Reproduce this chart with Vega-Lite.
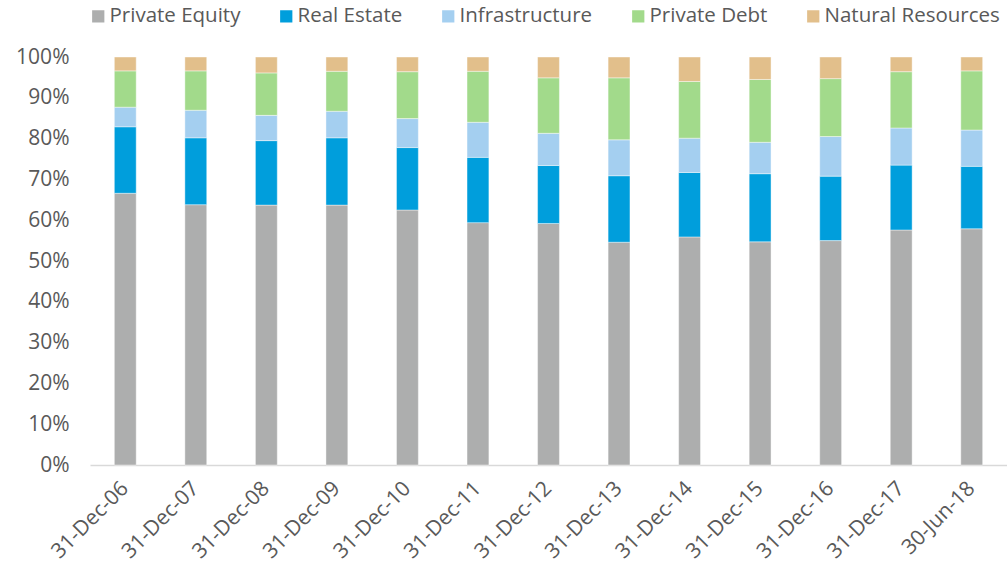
{
  "$schema": "https://vega.github.io/schema/vega-lite/v6.json",
  "width": 917,
  "height": 408,
  "autosize": {"type": "none"},
  "padding": {"left": 90, "top": 57, "right": 0, "bottom": 108},
  "background": "white",
  "config": {
    "view": {"stroke": null},
    "font": "Open Sans"
  },
  "datasets": {
    "alloc": [
      {"date": "31-Dec-06", "type": "Private Equity", "value": 66.6},
      {"date": "31-Dec-06", "type": "Real Estate", "value": 16.3},
      {"date": "31-Dec-06", "type": "Infrastructure", "value": 4.8},
      {"date": "31-Dec-06", "type": "Private Debt", "value": 8.9},
      {"date": "31-Dec-06", "type": "Natural Resources", "value": 3.4},
      {"date": "31-Dec-07", "type": "Private Equity", "value": 63.8},
      {"date": "31-Dec-07", "type": "Real Estate", "value": 16.4},
      {"date": "31-Dec-07", "type": "Infrastructure", "value": 6.75},
      {"date": "31-Dec-07", "type": "Private Debt", "value": 9.65},
      {"date": "31-Dec-07", "type": "Natural Resources", "value": 3.4},
      {"date": "31-Dec-08", "type": "Private Equity", "value": 63.7},
      {"date": "31-Dec-08", "type": "Real Estate", "value": 15.8},
      {"date": "31-Dec-08", "type": "Infrastructure", "value": 6.2},
      {"date": "31-Dec-08", "type": "Private Debt", "value": 10.4},
      {"date": "31-Dec-08", "type": "Natural Resources", "value": 3.9},
      {"date": "31-Dec-09", "type": "Private Equity", "value": 63.7},
      {"date": "31-Dec-09", "type": "Real Estate", "value": 16.5},
      {"date": "31-Dec-09", "type": "Infrastructure", "value": 6.5},
      {"date": "31-Dec-09", "type": "Private Debt", "value": 9.8},
      {"date": "31-Dec-09", "type": "Natural Resources", "value": 3.5},
      {"date": "31-Dec-10", "type": "Private Equity", "value": 62.5},
      {"date": "31-Dec-10", "type": "Real Estate", "value": 15.3},
      {"date": "31-Dec-10", "type": "Infrastructure", "value": 7.1},
      {"date": "31-Dec-10", "type": "Private Debt", "value": 11.5},
      {"date": "31-Dec-10", "type": "Natural Resources", "value": 3.6},
      {"date": "31-Dec-11", "type": "Private Equity", "value": 59.4},
      {"date": "31-Dec-11", "type": "Real Estate", "value": 16.0},
      {"date": "31-Dec-11", "type": "Infrastructure", "value": 8.6},
      {"date": "31-Dec-11", "type": "Private Debt", "value": 12.5},
      {"date": "31-Dec-11", "type": "Natural Resources", "value": 3.5},
      {"date": "31-Dec-12", "type": "Private Equity", "value": 59.2},
      {"date": "31-Dec-12", "type": "Real Estate", "value": 14.2},
      {"date": "31-Dec-12", "type": "Infrastructure", "value": 7.9},
      {"date": "31-Dec-12", "type": "Private Debt", "value": 13.6},
      {"date": "31-Dec-12", "type": "Natural Resources", "value": 5.1},
      {"date": "31-Dec-13", "type": "Private Equity", "value": 54.6},
      {"date": "31-Dec-13", "type": "Real Estate", "value": 16.3},
      {"date": "31-Dec-13", "type": "Infrastructure", "value": 8.8},
      {"date": "31-Dec-13", "type": "Private Debt", "value": 15.2},
      {"date": "31-Dec-13", "type": "Natural Resources", "value": 5.1},
      {"date": "31-Dec-14", "type": "Private Equity", "value": 55.9},
      {"date": "31-Dec-14", "type": "Real Estate", "value": 15.8},
      {"date": "31-Dec-14", "type": "Infrastructure", "value": 8.4},
      {"date": "31-Dec-14", "type": "Private Debt", "value": 13.9},
      {"date": "31-Dec-14", "type": "Natural Resources", "value": 6.0},
      {"date": "31-Dec-15", "type": "Private Equity", "value": 54.7},
      {"date": "31-Dec-15", "type": "Real Estate", "value": 16.7},
      {"date": "31-Dec-15", "type": "Infrastructure", "value": 7.7},
      {"date": "31-Dec-15", "type": "Private Debt", "value": 15.4},
      {"date": "31-Dec-15", "type": "Natural Resources", "value": 5.5},
      {"date": "31-Dec-16", "type": "Private Equity", "value": 55.0},
      {"date": "31-Dec-16", "type": "Real Estate", "value": 15.8},
      {"date": "31-Dec-16", "type": "Infrastructure", "value": 9.7},
      {"date": "31-Dec-16", "type": "Private Debt", "value": 14.2},
      {"date": "31-Dec-16", "type": "Natural Resources", "value": 5.3},
      {"date": "31-Dec-17", "type": "Private Equity", "value": 57.6},
      {"date": "31-Dec-17", "type": "Real Estate", "value": 15.9},
      {"date": "31-Dec-17", "type": "Infrastructure", "value": 9.1},
      {"date": "31-Dec-17", "type": "Private Debt", "value": 13.8},
      {"date": "31-Dec-17", "type": "Natural Resources", "value": 3.6},
      {"date": "30-Jun-18", "type": "Private Equity", "value": 57.9},
      {"date": "30-Jun-18", "type": "Real Estate", "value": 15.3},
      {"date": "30-Jun-18", "type": "Infrastructure", "value": 8.9},
      {"date": "30-Jun-18", "type": "Private Debt", "value": 14.5},
      {"date": "30-Jun-18", "type": "Natural Resources", "value": 3.4}
    ]
  },
  "data": {"name": "alloc"},
  "transform": [
    {"lookup": "type", "from": {"data": {"values": [
      {"type": "Private Equity", "ord": 1},
      {"type": "Real Estate", "ord": 2},
      {"type": "Infrastructure", "ord": 3},
      {"type": "Private Debt", "ord": 4},
      {"type": "Natural Resources", "ord": 5}
    ]}, "key": "type", "fields": ["ord"]}}
  ],
  "mark": {"type": "bar", "stroke": "white", "strokeWidth": 0.6, "strokeOpacity": 0.7},
  "encoding": {
    "x": {
      "field": "date",
      "type": "nominal",
      "sort": null,
      "scale": {"paddingInner": 0.69, "paddingOuter": 0.345},
      "axis": {
        "title": null,
        "labelAngle": -45,
        "labelAlign": "right",
        "labelBaseline": "middle",
        "labelFontSize": 21,
        "labelColor": "#595959",
        "labelPadding": 20,
        "ticks": false,
        "domainColor": "#d9d9d9",
        "domainWidth": 1.5
      }
    },
    "y": {
      "field": "value",
      "type": "quantitative",
      "stack": "normalize",
      "scale": {"domain": [0, 1], "nice": false},
      "axis": {
        "title": null,
        "format": ".0%",
        "values": [0, 0.1, 0.2, 0.3, 0.4, 0.5, 0.6, 0.7, 0.8, 0.9, 1],
        "grid": false,
        "domain": false,
        "ticks": false,
        "labelFontSize": 21,
        "labelColor": "#595959",
        "labelPadding": 21
      }
    },
    "color": {
      "field": "type",
      "type": "nominal",
      "scale": {
        "domain": ["Private Equity", "Real Estate", "Infrastructure", "Private Debt", "Natural Resources"],
        "range": ["#adaeae", "#009edc", "#a4cff0", "#a2da8b", "#e2bf8b"]
      },
      "legend": {
        "title": null,
        "orient": "none",
        "direction": "horizontal",
        "legendX": -2,
        "legendY": -51,
        "symbolType": "square",
        "symbolSize": 150,
        "symbolStrokeWidth": 0,
        "labelFontSize": 20.5,
        "labelColor": "#595959",
        "labelOffset": 1,
        "columnPadding": 35,
        "labelLimit": 300
      }
    },
    "order": {"field": "ord", "type": "quantitative"}
  }
}
